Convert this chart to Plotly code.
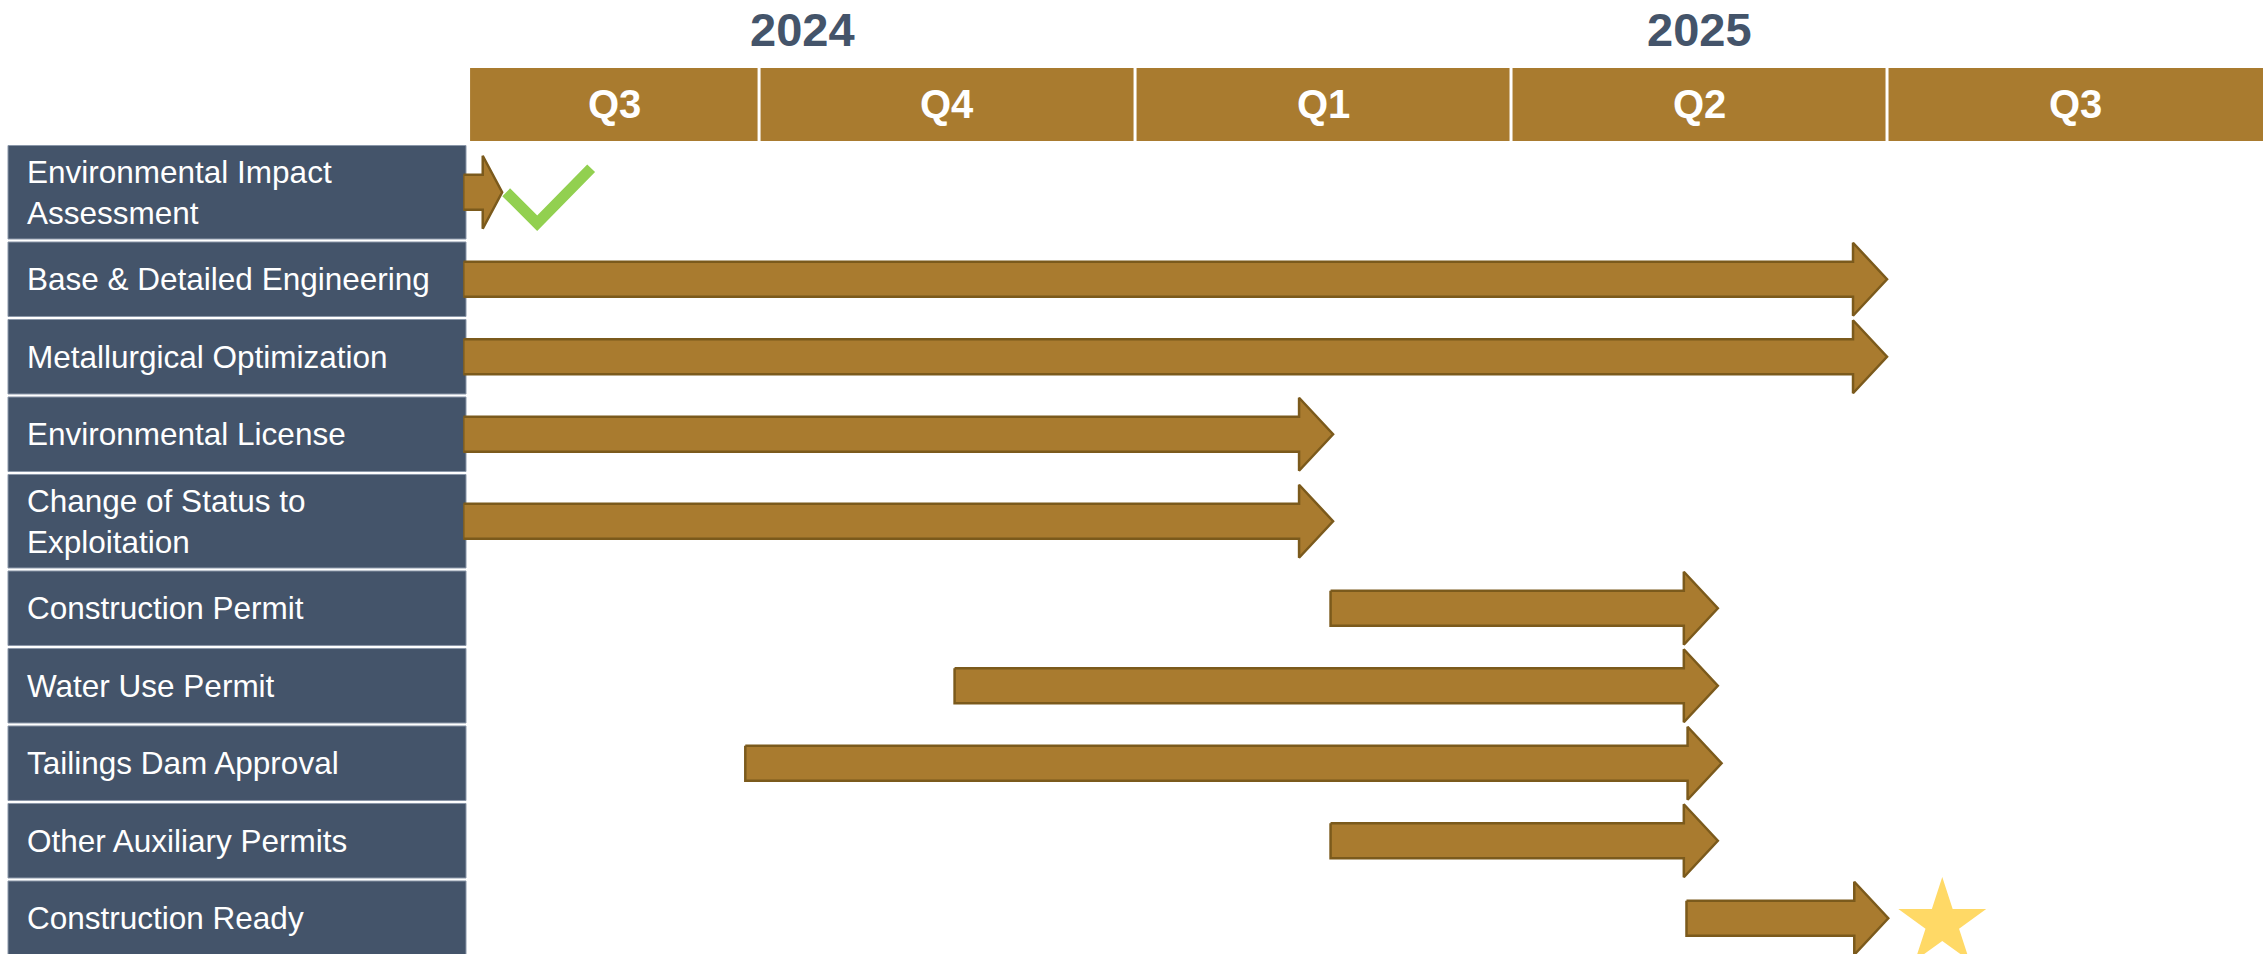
import plotly.graph_objects as go

W, H = 2267, 954

# ---------------- data ----------------
tasks = [
    "Environmental Impact<br>Assessment",
    "Base & Detailed Engineering",
    "Metallurgical Optimization",
    "Environmental License",
    "Change of Status to<br>Exploitation",
    "Construction Permit",
    "Water Use Permit",
    "Tailings Dam Approval",
    "Other Auxiliary Permits",
    "Construction Ready",
]
# timeline in months since 2024-07-01 (Q3 2024 = 0..3, Q4 = 3..6, ...)
task_start = [0.64, 0.64, 0.64, 0.64, 0.64, 7.56, 4.56, 2.89, 7.56, 10.40]
task_end = [0.95, 12.0, 12.0, 7.58, 7.58, 10.65, 10.65, 10.68, 10.65, 12.01]

quarter_labels = ["Q3", "Q4", "Q1", "Q2", "Q3"]
quarter_start = [0.694, 3, 6, 9, 12]
quarter_end = [3, 6, 9, 12, 15]

year_labels = ["2024", "2025"]
year_quarters = [[0, 1], [2, 3, 4]]

check_task = 0   # completed milestone (check mark)
star_task = 9    # final milestone (star)

# ---------------- style / layout ----------------
BROWN = "#A97B2F"
BROWN_EDGE = "#7B5A1C"
SLATE = "#44546A"
GREEN = "#92D050"
GOLD = "#FFD966"
FONT = "Arial, Liberation Sans, sans-serif"

X_DOM = [463.3 / W, 2264 / W]
X_RANGE = [0.64, 15.008]
PX_X = (X_DOM[1] - X_DOM[0]) * W / (X_RANGE[1] - X_RANGE[0])

TOP_PX = 144
ROW_PX = 77.5
Y_DOM = [0, 1 - TOP_PX / H]
Y_RANGE = [(H - TOP_PX) / ROW_PX, 0]

row_units = [1.245 if "<br>" in t else 1.0 for t in tasks]
row_top, row_ctr = [], []
acc = 0.0
for u in row_units:
    row_top.append(acc)
    row_ctr.append(acc + u / 2)
    acc += u

fig = go.Figure()

# arrows
BODY = 17.5 / ROW_PX
HEAD = 36.5 / ROW_PX
for s, e, yc in zip(task_start, task_end, row_ctr):
    L = (e - s) * PX_X
    hl = min(34.0, 0.5 * L) / PX_X
    xs = [s, e - hl, e - hl, e, e - hl, e - hl, s, s]
    ys = [yc - BODY, yc - BODY, yc - HEAD, yc, yc + HEAD, yc + BODY, yc + BODY, yc - BODY]
    fig.add_trace(go.Scatter(
        x=xs, y=ys, mode="lines", fill="toself", fillcolor=BROWN,
        line=dict(color=BROWN_EDGE, width=2.5), hoverinfo="skip", showlegend=False,
    ))

# check mark after the completed task
ce, cy = task_end[check_task], row_ctr[check_task]
fig.add_trace(go.Scatter(
    x=[ce + 4 / PX_X, ce + 35 / PX_X, ce + 89 / PX_X],
    y=[cy, cy + 31 / ROW_PX, cy - 24 / ROW_PX],
    mode="lines", line=dict(color=GREEN, width=11),
    hoverinfo="skip", showlegend=False,
))

# star at final milestone
se, sy = task_end[star_task], row_ctr[star_task]
fig.add_trace(go.Scatter(
    x=[se + 54 / PX_X], y=[sy + 5 / ROW_PX], mode="markers",
    marker=dict(symbol="star", size=66, color=GOLD, line=dict(width=0)),
    hoverinfo="skip", showlegend=False, cliponaxis=False,
))

shapes, annotations = [], []

# label boxes + labels
GAP = 3 / ROW_PX
for t, top, u, yc in zip(tasks, row_top, row_units, row_ctr):
    shapes.append(dict(
        type="rect", xref="paper", yref="y", x0=8 / W, x1=466 / W,
        y0=top + GAP / 2, y1=top + u - GAP / 2,
        fillcolor=SLATE, line=dict(color="#8A97A9", width=1), layer="below",
    ))
    annotations.append(dict(
        xref="paper", yref="y", x=25 / W, y=yc, text=t, showarrow=False,
        xanchor="left", yanchor="middle", align="left",
        font=dict(family=FONT, size=31.5, color="white"),
    ))

# quarter header
QG = 3 / PX_X
HY0, HY1 = 1 - 141 / H, 1 - 68 / H
n = len(quarter_labels)
for i, (ql, qs, qe) in enumerate(zip(quarter_labels, quarter_start, quarter_end)):
    shapes.append(dict(
        type="rect", xref="x", yref="paper",
        x0=qs + (QG / 2 if i > 0 else 0), x1=qe - (QG / 2 if i < n - 1 else 0),
        y0=HY0, y1=HY1, fillcolor=BROWN, line=dict(width=0), layer="below",
    ))
    annotations.append(dict(
        xref="x", yref="paper", x=(qs + qe) / 2, y=1 - 104 / H, text=ql,
        showarrow=False, xanchor="center", yanchor="middle",
        font=dict(family=FONT, size=40, color="white", weight="bold"),
    ))

# years
for yl, qs_idx in zip(year_labels, year_quarters):
    x0 = quarter_start[qs_idx[0]]
    x1 = quarter_end[qs_idx[-1]]
    annotations.append(dict(
        xref="x", yref="paper", x=(x0 + x1) / 2, y=1 - 29 / H, text=yl,
        showarrow=False, xanchor="center", yanchor="middle",
        font=dict(family=FONT, size=47, color=SLATE, weight="bold"),
    ))

fig.update_layout(
    width=W, height=H,
    margin=dict(l=0, r=0, t=0, b=0),
    paper_bgcolor="white", plot_bgcolor="white",
    xaxis=dict(domain=X_DOM, range=X_RANGE, visible=False, fixedrange=True),
    yaxis=dict(domain=Y_DOM, range=Y_RANGE, visible=False, fixedrange=True),
    shapes=shapes, annotations=annotations,
    showlegend=False,
)

fig.write_html(
    "out.html",
    config={"displayModeBar": False},
    post_script="document.body.style.margin='0';document.body.style.overflow='hidden';",
)
